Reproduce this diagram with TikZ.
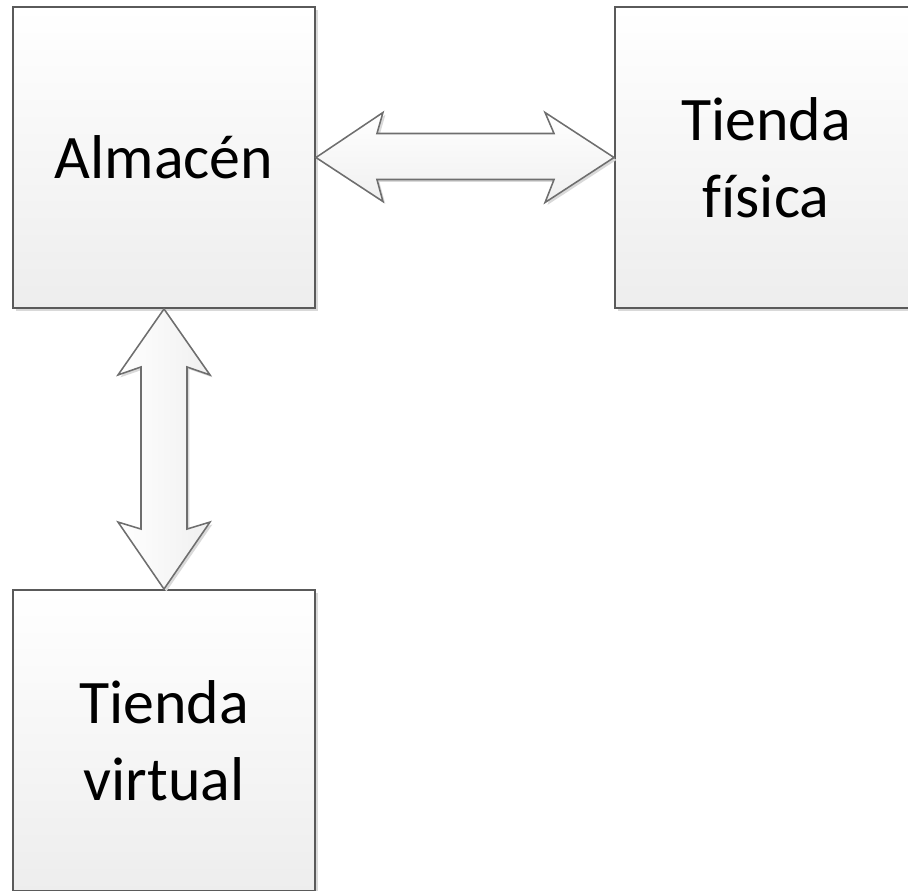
\documentclass[tikz,border=0pt]{standalone}
\usepackage{fontspec}
\setmainfont{Carlito}[Ligatures=NoCommon]
\usetikzlibrary{shadows, calc}

\definecolor{boxline}{HTML}{5A5A5A}
\definecolor{arrline}{HTML}{6E6E6E}
\definecolor{shade}{HTML}{D9D9D9}

\tikzset{
	sitebox/.style={rectangle, draw=boxline, line width=1.3pt, top color=white, bottom color=black!7,
		minimum width=7.55cm, minimum height=7.525cm, align=center,
		font=\fontsize{44}{54.6}\selectfont,
		drop shadow={fill=shade, opacity=1, shadow xshift=0.07cm, shadow yshift=-0.07cm}},
	flowarrow/.style={draw=arrline, line width=1.1pt, line join=miter, top color=white, bottom color=black!6,
		drop shadow={fill=shade, opacity=1, shadow xshift=0.06cm, shadow yshift=-0.06cm}}
}

\begin{document}
\begin{tikzpicture}[x=0.025cm, y=-0.025cm]
	\useasboundingbox (0,0) rectangle (908,890);
	\clip (0,0) rectangle (908,890);

	\node[sitebox] at (164,157.5) (almacen) {Almacén};
	\node[sitebox] at (766,157.5) (fisica) {Tienda\\física};
	\node[sitebox] at (164,740.5) (virtual) {Tienda\\virtual};

	% almacen <-> tienda fisica
	\path[flowarrow] (almacen.east) -- ++(67,-45) -- ++(-6,21) -- ($(fisica.west)+(-60,-24)$)
		-- ($(fisica.west)+(-69,-45)$) -- (fisica.west) -- ($(fisica.west)+(-69,45)$)
		-- ($(fisica.west)+(-60,22)$) -- ($(almacen.east)+(61,22)$) -- ($(almacen.east)+(67,44)$) -- cycle;

	% almacen <-> tienda virtual
	\path[flowarrow, left color=white, right color=black!6] (almacen.south) -- ++(46,66) -- ++(-23,-8) -- ($(virtual.north)+(23,-60)$)
		-- ($(virtual.north)+(46,-67)$) -- (virtual.north) -- ($(virtual.north)+(-46,-67)$)
		-- ($(virtual.north)+(-23,-60)$) -- ($(almacen.south)+(-23,58)$) -- ($(almacen.south)+(-46,66)$) -- cycle;
\end{tikzpicture}
\end{document}
